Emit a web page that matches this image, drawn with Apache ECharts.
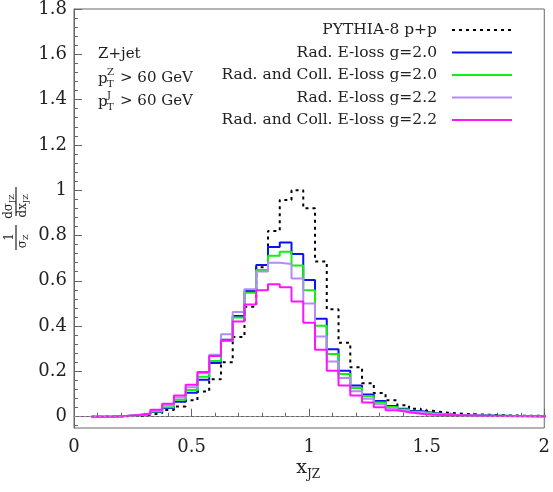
<!DOCTYPE html>
<html>
<head>
<meta charset="utf-8">
<script src="https://cdn.jsdelivr.net/npm/echarts@6.0.0/dist/echarts.min.js"></script>
<style>
  html, body { margin: 0; padding: 0; background: #fff; }
  #main { width: 553px; height: 492px; }
</style>
</head>
<body>
<div id="main"></div>
<script>
// bin centres of x_JZ, bin width 0.05
const binWidth = 0.05
const xCenters = [0.10, 0.15, 0.20, 0.25, 0.30, 0.35, 0.40, 0.45, 0.50, 0.55,
  0.60, 0.65, 0.70, 0.75, 0.80, 0.85, 0.90, 0.95, 1.00, 1.05,
  1.10, 1.15, 1.20, 1.25, 1.30, 1.35, 1.40, 1.45, 1.50, 1.55,
  1.60, 1.65, 1.70, 1.75, 1.80, 1.85, 1.90, 1.95, 2.00]

const pythia = [0.000, 0.001, 0.002, 0.004, 0.008, 0.016, 0.030, 0.045, 0.073, 0.111,
  0.165, 0.240, 0.352, 0.485, 0.660, 0.820, 0.957, 1.000, 0.920, 0.685,
  0.474, 0.326, 0.218, 0.148, 0.104, 0.072, 0.050, 0.035, 0.026, 0.019,
  0.015, 0.012, 0.010, 0.008, 0.006, 0.005, 0.004, 0.004, 0.003]
const radG20 = [0.000, 0.001, 0.003, 0.006, 0.011, 0.021, 0.038, 0.066, 0.106, 0.163,
  0.237, 0.340, 0.445, 0.555, 0.670, 0.749, 0.769, 0.718, 0.604, 0.432,
  0.298, 0.203, 0.138, 0.098, 0.069, 0.047, 0.035, 0.025, 0.017, 0.012,
  0.009, 0.007, 0.006, 0.005, 0.004, 0.003, 0.003, 0.002, 0.002]
const radCollG20 = [0.000, 0.001, 0.003, 0.006, 0.012, 0.023, 0.042, 0.075, 0.118, 0.176,
  0.246, 0.334, 0.438, 0.547, 0.648, 0.710, 0.728, 0.667, 0.558, 0.401,
  0.277, 0.188, 0.127, 0.090, 0.063, 0.043, 0.032, 0.022, 0.015, 0.011,
  0.008, 0.006, 0.005, 0.004, 0.004, 0.003, 0.003, 0.002, 0.002]
const radG22 = [0.000, 0.001, 0.003, 0.007, 0.013, 0.027, 0.050, 0.085, 0.130, 0.192,
  0.273, 0.364, 0.462, 0.563, 0.641, 0.680, 0.674, 0.610, 0.500, 0.354,
  0.244, 0.171, 0.112, 0.079, 0.055, 0.038, 0.028, 0.019, 0.013, 0.010,
  0.007, 0.006, 0.005, 0.004, 0.003, 0.003, 0.002, 0.002, 0.002]
const radCollG22 = [0.000, 0.001, 0.003, 0.007, 0.014, 0.031, 0.057, 0.094, 0.141, 0.197,
  0.268, 0.337, 0.420, 0.495, 0.558, 0.585, 0.572, 0.509, 0.415, 0.296,
  0.203, 0.138, 0.093, 0.063, 0.042, 0.028, 0.020, 0.013, 0.009, 0.007,
  0.006, 0.005, 0.004, 0.003, 0.003, 0.002, 0.002, 0.002, 0.001]

const yTicks = [0, 0.2, 0.4, 0.6, 0.8, 1.0, 1.2, 1.4, 1.6, 1.8]
const yMinorTicks = [-0.04]
for (let i = 0; i < yTicks.length - 1; i++) {
  for (let k = 1; k < 5; k++) {
    yMinorTicks.push(+(yTicks[i] + (yTicks[i + 1] - yTicks[i]) * k / 5).toFixed(3))
  }
}

// step histogram: one point at each left bin edge, plus the final right edge
function toSteps(vals) {
  const pts = xCenters.map((x, i) => [x - binWidth / 2, vals[i]])
  const last = xCenters.length - 1
  pts.push([xCenters[last] + binWidth / 2, vals[last]])
  return pts
}

const serif = 'DejaVu Serif'
const frame = '#666'

const chart = echarts.init(document.getElementById('main'))

function histo(name, vals, color, type) {
  return {
    name: name,
    type: 'line',
    step: 'end',
    symbol: 'none',
    data: toSteps(vals),
    lineStyle: { color: color, width: 2, type: type || 'solid' },
    itemStyle: { color: color }
  }
}

const series = [
  histo('PYTHIA-8 p+p', pythia, '#000', [3, 4]),
  histo('Rad. E-loss g=2.0', radG20, '#0a14f0'),
  histo('Rad. and Coll. E-loss g=2.0', radCollG20, '#12f012'),
  histo('Rad. E-loss g=2.2', radG22, '#b48cf5'),
  histo('Rad. and Coll. E-loss g=2.2', radCollG22, '#ff14ff')
]
series[0].markLine = {
  silent: true,
  symbol: ['none', 'none'],
  label: { show: false },
  lineStyle: { color: '#999', width: 1, type: [2, 3] },
  data: [{ yAxis: 0 }]
}

chart.setOption({
  animation: false,
  backgroundColor: '#fff',
  grid: {
    left: 74, right: 6, top: 8, bottom: 64,
    show: true, borderColor: frame, borderWidth: 1
  },
  legend: {
    orient: 'vertical',
    align: 'right',
    right: 35,
    top: 17,
    itemWidth: 60,
    itemHeight: 12,
    itemGap: 6.5,
    itemStyle: { color: 'rgba(0,0,0,0)', borderWidth: 0 },
    textStyle: { fontFamily: serif, fontSize: 15.5, color: '#222', lineHeight: 16, padding: [0, 10, 0, 0] }
  },
  xAxis: {
    type: 'value',
    min: 0,
    max: 2,
    interval: 0.5,
    axisLine: { lineStyle: { color: frame } },
    axisTick: { inside: true, length: 8, lineStyle: { color: frame } },
    minorTick: { show: true, splitNumber: 5, length: 4, lineStyle: { color: frame } },
    splitLine: { show: false },
    axisLabel: { margin: 10, fontFamily: serif, fontSize: 18, color: '#222' }
  },
  yAxis: [
    {
      type: 'value',
      min: -0.05,
      max: 1.8,
      axisLine: { show: true, lineStyle: { color: frame } },
      axisTick: { show: true, inside: true, length: 8, customValues: yTicks, lineStyle: { color: frame } },
      axisLabel: { margin: 7, fontFamily: serif, fontSize: 18, color: '#222', customValues: yTicks },
      splitLine: { show: false }
    },
    {
      type: 'value',
      position: 'left',
      min: -0.05,
      max: 1.8,
      axisLine: { show: false },
      axisTick: { show: true, inside: true, length: 4, customValues: yMinorTicks, lineStyle: { color: frame } },
      axisLabel: { show: false },
      splitLine: { show: false }
    }
  ],
  series: series,
  graphic: [
    // annotation
    { type: 'text', left: 98, top: 47, style: { text: 'Z+jet', font: '15px "DejaVu Serif"', fill: '#222' } },
    { type: 'text', x: 98, y: 79, style: { text: 'p', font: '15px "DejaVu Serif"', fill: '#222', verticalAlign: 'middle' } },
    { type: 'text', x: 107, y: 72, style: { text: 'Z', font: '10px "DejaVu Serif"', fill: '#222', verticalAlign: 'middle' } },
    { type: 'text', x: 107, y: 84, style: { text: 'T', font: '10px "DejaVu Serif"', fill: '#222', verticalAlign: 'middle' } },
    { type: 'text', x: 120, y: 78, style: { text: '> 60 GeV', font: '15px "DejaVu Serif"', fill: '#222', verticalAlign: 'middle' } },
    { type: 'text', x: 98, y: 102, style: { text: 'p', font: '15px "DejaVu Serif"', fill: '#222', verticalAlign: 'middle' } },
    { type: 'text', x: 107, y: 95, style: { text: 'J', font: '10px "DejaVu Serif"', fill: '#222', verticalAlign: 'middle' } },
    { type: 'text', x: 107, y: 107, style: { text: 'T', font: '10px "DejaVu Serif"', fill: '#222', verticalAlign: 'middle' } },
    { type: 'text', x: 120, y: 101, style: { text: '> 60 GeV', font: '15px "DejaVu Serif"', fill: '#222', verticalAlign: 'middle' } },
    // x axis title
    { type: 'text', x: 307, y: 468, style: { text: 'x', font: '19px "DejaVu Serif"', fill: '#222', align: 'right', verticalAlign: 'middle' } },
    { type: 'text', x: 307, y: 475, style: { text: 'JZ', font: '12px "DejaVu Serif"', fill: '#222', align: 'left', verticalAlign: 'middle' } },
    // y axis title, rotated fraction
    {
      type: 'group',
      x: 16,
      y: 218,
      rotation: Math.PI / 2,
      children: [
        { type: 'line', shape: { x1: -7, y1: 0, x2: -32, y2: 0 }, style: { stroke: '#222', lineWidth: 1.2 } },
        { type: 'text', x: -19, y: -6, style: { text: '1', font: '12px "DejaVu Serif"', fill: '#222', align: 'center', verticalAlign: 'middle' } },
        { type: 'text', x: -22, y: 7, style: { text: 'σ', font: '12px "DejaVu Serif"', fill: '#222', align: 'right', verticalAlign: 'middle' } },
        { type: 'text', x: -22, y: 10, style: { text: 'Z', font: '8px "DejaVu Serif"', fill: '#222', align: 'left', verticalAlign: 'middle' } },
        { type: 'line', shape: { x1: 2, y1: 0, x2: 31, y2: 0 }, style: { stroke: '#222', lineWidth: 1.2 } },
        { type: 'text', x: 15, y: -7, style: { text: 'dσ', font: '12px "DejaVu Serif"', fill: '#222', align: 'right', verticalAlign: 'middle' } },
        { type: 'text', x: 15, y: -4, style: { text: 'JZ', font: '8px "DejaVu Serif"', fill: '#222', align: 'left', verticalAlign: 'middle' } },
        { type: 'text', x: 15, y: 7, style: { text: 'dx', font: '12px "DejaVu Serif"', fill: '#222', align: 'right', verticalAlign: 'middle' } },
        { type: 'text', x: 15, y: 10, style: { text: 'JZ', font: '8px "DejaVu Serif"', fill: '#222', align: 'left', verticalAlign: 'middle' } }
      ]
    }
  ]
})
window.addEventListener('resize', () => chart.resize())
</script>
</body>
</html>
